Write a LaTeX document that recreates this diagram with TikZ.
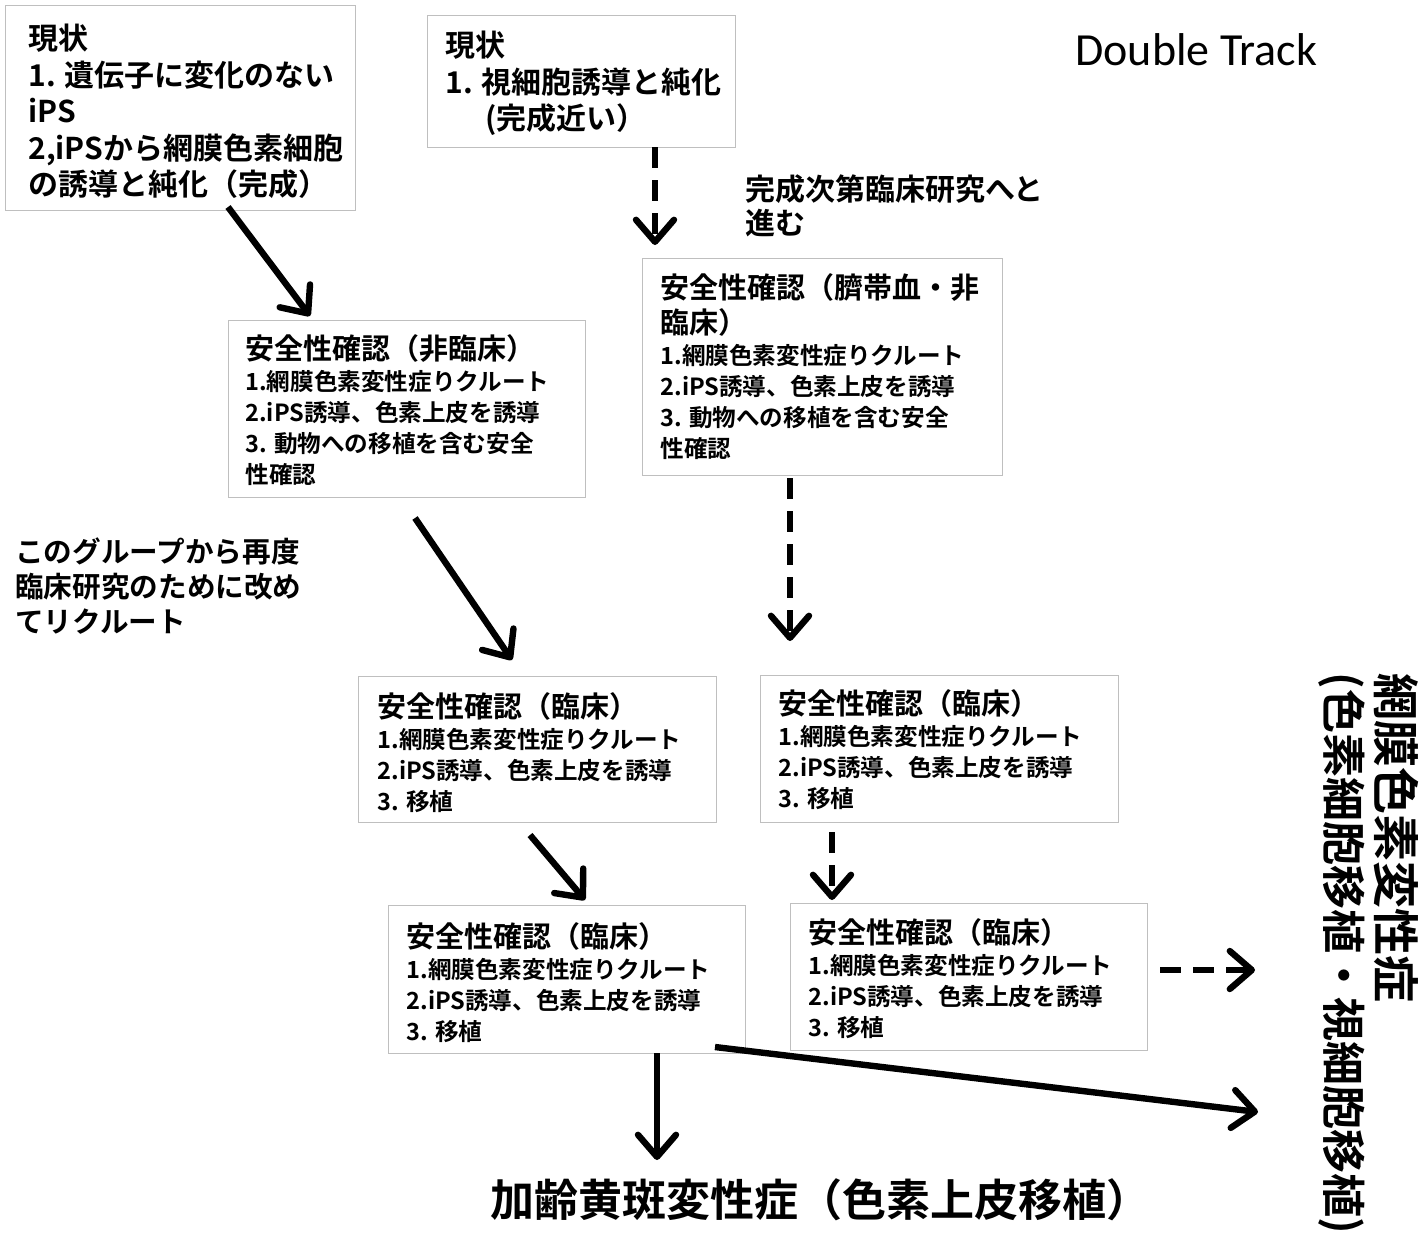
\documentclass[tikz,border=0pt]{standalone}
\usepackage{fontspec}
\setmainfont{Noto Sans CJK JP}[BoldFont={* Bold}]
\newfontfamily\carlito{Carlito}
\usetikzlibrary{arrows.meta,calc}
\newcommand\ttlfont{\fontsize{14.5pt}{15.5pt}\selectfont}
\newcommand\bodyfont{\fontsize{11.8pt}{15.5pt}\selectfont\bfseries}
\newcommand\bigfont{\fontsize{15pt}{18.2pt}\selectfont\bfseries}
\begin{document}
\begin{tikzpicture}[x=0.5pt,y=-0.5pt,
  box/.style={draw=gray!50, line width=0.5pt, anchor=north west, inner sep=0, outer sep=0},
  txt/.style={anchor=north west, inner sep=0, align=left, font=\bodyfont},
  bigtxt/.style={anchor=north west, inner sep=0, align=left, font=\bigfont},
  sol/.style={line width=3.2pt, -{Straight Barb[length=11pt,width=19pt,line cap=round,line join=round]}},
  dsh/.style={sol, dash pattern=on 10.5pt off 6pt}]
\fill[white] (0,0) rectangle (1422,1237);
\useasboundingbox (0,0) rectangle (1422,1237);

% boxes
\node[box, minimum width=175pt, minimum height=102.5pt] (b1) at (5,5) {};
\node[box, minimum width=154pt, minimum height=66pt] (b2) at (427,15) {};
\node[box, minimum width=178.5pt, minimum height=88.5pt] (b3) at (228,320) {};
\node[box, minimum width=180pt, minimum height=108.5pt] (b4) at (642,258) {};
\node[box, minimum width=179pt, minimum height=73pt] (b5) at (358,676) {};
\node[box, minimum width=179pt, minimum height=73.5pt] (b6) at (760,675) {};
\node[box, minimum width=178.5pt, minimum height=74pt] (b7) at (388,905) {};
\node[box, minimum width=178.5pt, minimum height=73.5pt] (b8) at (790,903) {};

% box texts
\node[bigtxt] (t1) at (28,24) {現状\\1. 遺伝子に変化のない\\iPS\\2,iPSから網膜色素細胞\\の誘導と純化（完成）};
\node[bigtxt] (t2) at (445,31) {現状\\1. 視細胞誘導と純化\\\hspace*{20pt}(完成近い）};
\node[txt] (t3) at (245,334) {{\ttlfont 安全性確認（非臨床）}\\1.網膜色素変性症りクルート\\2.iPS誘導、色素上皮を誘導\\3. 動物への移植を含む安全\\性確認};
\node[txt] (t4) at (660,273) {{\ttlfont 安全性確認（臍帯血・非}\\[2pt]{\ttlfont 臨床）}\\1.網膜色素変性症りクルート\\2.iPS誘導、色素上皮を誘導\\3. 動物への移植を含む安全\\性確認};
\node[txt] (t5) at (377,692) {{\ttlfont 安全性確認（臨床）}\\1.網膜色素変性症りクルート\\2.iPS誘導、色素上皮を誘導\\3. 移植};
\node[txt] (t6) at (778,689) {{\ttlfont 安全性確認（臨床）}\\1.網膜色素変性症りクルート\\2.iPS誘導、色素上皮を誘導\\3. 移植};
\node[txt] (t7) at (406,922) {{\ttlfont 安全性確認（臨床）}\\1.網膜色素変性症りクルート\\2.iPS誘導、色素上皮を誘導\\3. 移植};
\node[txt] (t8) at (808,918) {{\ttlfont 安全性確認（臨床）}\\1.網膜色素変性症りクルート\\2.iPS誘導、色素上皮を誘導\\3. 移植};

% free texts
\node[anchor=base west, inner sep=0, font=\carlito\fontsize{23pt}{27pt}\selectfont] (dt) at (1075,65) {Double Track};
\node[anchor=north west, inner sep=0, align=left, font=\fontsize{15pt}{17pt}\selectfont\bfseries] (note1) at (745,174) {完成次第臨床研究へと\\進む};
\node[anchor=north west, inner sep=0, align=left, font=\fontsize{14.3pt}{17.5pt}\selectfont\bfseries] (note2) at (15,537) {このグループから再度\\臨床研究のために改め\\てリクルート};
\node[inner sep=0, font=\fontsize{22pt}{26pt}\selectfont\bfseries] (amd) at (820,1200) {加齢黄斑変性症（色素上皮移植）};
\node[rotate=-90, anchor=west, inner sep=0, font=\fontsize{23.5pt}{28pt}\selectfont\bfseries] (rt1) at (1396,673) {網膜色素変性症};
\node[rotate=-90, anchor=west, inner sep=0, font=\fontsize{22pt}{26pt}\selectfont\bfseries] (rt2) at (1342,672) {(色素細胞移植・視細胞移植)};

\coordinate (rp1) at (1255,970);
\coordinate (rp2) at (1258,1112);

% connectors
\draw[sol] ($(b1.south west)+(223,-3)$) -- ($(b3.north west)+(82,-4)$);
\draw[dsh] ($(b2.south west)+(228,0)$) -- ($(b4.north west)+(13,-13)$);
\draw[sol] ($(b3.south west)+(187,21)$) -- ($(b5.north west)+(154,-16)$);
\draw[dsh] ($(b4.south west)+(148,3)$) -- ($(b6.north west)+(30,-34)$);
\draw[sol] ($(b5.south west)+(172,13)$) -- ($(b7.north west)+(197,-5)$);
\draw[dsh] ($(b6.south west)+(72,10)$) -- ($(b8.north west)+(42,-3)$);
\draw[dsh] ($(b8.north east)+(13,67)$) -- (rp1);
\draw[sol] ($(b7.south west)+(269,0)$) -- ($(b7.south west)+(269,107)$);
\draw[sol] ($(b7.south east)+(-30,-6)$) -- (rp2);
\end{tikzpicture}
\end{document}
